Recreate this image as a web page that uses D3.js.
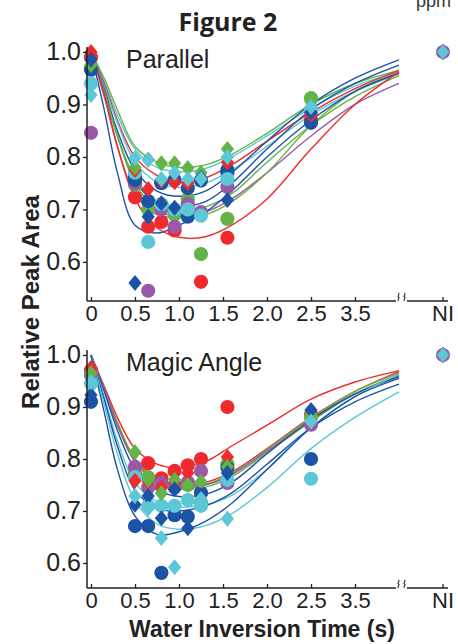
<!DOCTYPE html>
<html>
<head>
<meta charset="utf-8">
<script src="https://cdn.jsdelivr.net/npm/d3@7"></script>
<style>
  body { margin: 0; background: #fff; }
  svg { display: block; }
</style>
</head>
<body>
<svg id="chart" width="458" height="644"></svg>
<script>
// ---- data ----
const TIMES = [0, 0.5, 0.65, 0.8, 0.95, 1.1, 1.25, 1.55, 2.5];
const FIT_TIMES = [0, 0.15, 0.3, 0.5, 0.75, 1.0, 1.3, 1.6, 2.0, 2.5, 3.0, 3.5];
const X_TICKS = [0, 0.5, 1, 1.5, 2, 2.5, 3];
const X_TICK_LABELS = ["0", "0.5", "1.0", "1.5", "2.0", "2.5", "3.5"];
const Y_TICKS = [0.6, 0.7, 0.8, 0.9, 1.0];

const COLORS = {
  red: "#ee2a2c", green: "#62b446", blue: "#1d53a4", cyan: "#5bc7d7", purple: "#9b58a7"
};

// Parallel: measured points
const parRedCircle    = [0.99, 0.723, 0.667, 0.676, 0.66, 0.705, 0.562, 0.646, 0.87];
const parGreenCircle  = [0.97, 0.747, 0.70, 0.71, 0.69, 0.72, 0.615, 0.682, 0.912];
const parPurpleCircle = [0.846, 0.75, 0.545, 0.70, 0.667, 0.71, 0.695, 0.743, 0.885];
const parBlueCircle   = [0.966, 0.756, 0.716, 0.75, 0.756, 0.686, 0.755, 0.77, 0.865];
const parBlueCircle2  = [null, 0.762, null, 0.752, null, 0.741, null, 0.775, null];
const parCyanCircle   = [0.94, 0.77, 0.638, 0.71, 0.70, 0.70, 0.688, 0.758, 0.89];
const parRedDiamond   = [1.0, 0.775, 0.739, 0.755, 0.752, 0.75, null, 0.79, 0.88];
const parGreenDiamond = [0.975, 0.78, 0.795, 0.788, 0.788, 0.779, 0.77, 0.815, 0.905];
const parBlueDiamond  = [0.985, 0.56, 0.686, 0.712, 0.703, null, 0.76, 0.718, 0.885];
const parCyanDiamond  = [0.918, 0.798, 0.794, 0.758, 0.77, 0.758, 0.758, 0.80, 0.895];

// Parallel: fitted curves sampled at FIT_TIMES
const parFitGreenHi  = [1.0, 0.95, 0.89, 0.82, 0.79, 0.78, 0.785, 0.805, 0.845, 0.90, 0.94, 0.965];
const parFitCyanHi   = [1.0, 0.945, 0.88, 0.815, 0.78, 0.772, 0.778, 0.80, 0.84, 0.893, 0.935, 0.962];
const parFitRedHi    = [1.0, 0.94, 0.87, 0.80, 0.765, 0.752, 0.76, 0.785, 0.83, 0.885, 0.93, 0.965];
const parFitCyanLo   = [1.0, 0.935, 0.865, 0.79, 0.752, 0.742, 0.75, 0.775, 0.82, 0.88, 0.925, 0.958];
const parFitBlueHi   = [1.0, 0.93, 0.85, 0.775, 0.735, 0.725, 0.735, 0.77, 0.83, 0.90, 0.95, 0.985];
const parFitBlueMid  = [1.0, 0.925, 0.84, 0.755, 0.712, 0.705, 0.715, 0.75, 0.815, 0.89, 0.94, 0.975];
const parFitGreenMid = [1.0, 0.925, 0.84, 0.76, 0.715, 0.70, 0.705, 0.73, 0.79, 0.86, 0.915, 0.955];
const parFitPurple   = [1.0, 0.915, 0.82, 0.73, 0.69, 0.685, 0.695, 0.72, 0.77, 0.84, 0.90, 0.94];
const parFitGreenLo  = [1.0, 0.925, 0.84, 0.75, 0.70, 0.685, 0.69, 0.715, 0.77, 0.86, 0.925, 0.96];
const parFitBlueLo   = [1.0, 0.89, 0.77, 0.67, 0.655, 0.67, 0.695, 0.735, 0.80, 0.87, 0.925, 0.96];
const parFitRedLo    = [1.0, 0.92, 0.82, 0.72, 0.665, 0.647, 0.648, 0.67, 0.72, 0.815, 0.90, 0.962];

// Magic angle: measured points
const magRedCircle    = [0.97, 0.77, 0.792, 0.763, 0.777, 0.788, 0.80, 0.90, 0.885];
const magGreenCircle  = [0.96, 0.78, 0.765, 0.75, 0.75, 0.75, 0.715, 0.79, 0.88];
const magPurpleCircle = [0.965, 0.785, 0.745, 0.754, 0.745, 0.755, 0.777, 0.754, 0.866];
const magBlueCircle   = [0.91, 0.671, 0.671, 0.581, 0.692, 0.689, 0.735, 0.783, 0.80];
const magCyanCircle   = [0.945, 0.765, 0.71, 0.71, 0.71, 0.721, 0.71, 0.76, 0.762];
const magRedDiamond   = [0.975, 0.758, 0.756, 0.745, 0.755, 0.773, 0.73, 0.804, 0.885];
const magGreenDiamond = [0.965, 0.813, 0.76, 0.734, 0.76, 0.75, 0.756, 0.785, 0.885];
const magBlueDiamond  = [0.923, 0.712, 0.729, 0.686, 0.742, 0.667, 0.73, 0.773, 0.894];
const magCyanDiamond  = [0.948, 0.729, 0.705, 0.648, 0.592, 0.72, 0.723, 0.685, 0.872];

// Magic angle: fitted curves sampled at FIT_TIMES
const magFitRedHi   = [1.0, 0.94, 0.88, 0.82, 0.79, 0.783, 0.795, 0.825, 0.865, 0.915, 0.948, 0.97];
const magFitRedLo   = [1.0, 0.935, 0.87, 0.80, 0.762, 0.75, 0.755, 0.775, 0.82, 0.88, 0.93, 0.968];
const magFitGreen1  = [1.0, 0.935, 0.87, 0.80, 0.76, 0.748, 0.752, 0.772, 0.818, 0.878, 0.93, 0.965];
const magFitGreen2  = [1.0, 0.933, 0.865, 0.795, 0.755, 0.742, 0.746, 0.766, 0.812, 0.872, 0.925, 0.962];
const magFitPurple  = [1.0, 0.935, 0.865, 0.795, 0.757, 0.745, 0.75, 0.77, 0.815, 0.875, 0.925, 0.96];
const magFitBlueHi  = [1.0, 0.93, 0.855, 0.78, 0.74, 0.728, 0.732, 0.755, 0.81, 0.875, 0.925, 0.958];
const magFitCyanHi  = [1.0, 0.92, 0.835, 0.755, 0.718, 0.708, 0.712, 0.73, 0.78, 0.86, 0.92, 0.963];
const magFitBlueMid = [1.0, 0.915, 0.825, 0.74, 0.705, 0.70, 0.71, 0.735, 0.79, 0.86, 0.91, 0.944];
const magFitCyanLo  = [1.0, 0.905, 0.81, 0.72, 0.675, 0.665, 0.672, 0.695, 0.745, 0.82, 0.88, 0.929];
const magFitBlueLo  = [1.0, 0.89, 0.78, 0.69, 0.655, 0.66, 0.68, 0.715, 0.78, 0.86, 0.92, 0.955];

// NI (no inversion) reference point
const NI_VALUE = 1.0;

const panels = [
  {
    label: "Parallel", top: 47, bottom: 301, yMin: 0.5255, yMax: 1.0095,
    fits: [
      ["green", parFitGreenHi], ["cyan", parFitCyanHi], ["red", parFitRedHi], ["cyan", parFitCyanLo],
      ["blue", parFitBlueHi], ["blue", parFitBlueMid], ["green", parFitGreenMid], ["purple", parFitPurple],
      ["green", parFitGreenLo], ["blue", parFitBlueLo], ["red", parFitRedLo]
    ],
    points: [
      ["red", "circle", parRedCircle], ["green", "circle", parGreenCircle], ["purple", "circle", parPurpleCircle],
      ["blue", "circle", parBlueCircle], ["blue", "circle", parBlueCircle2], ["cyan", "circle", parCyanCircle],
      ["red", "diamond", parRedDiamond], ["green", "diamond", parGreenDiamond],
      ["blue", "diamond", parBlueDiamond], ["cyan", "diamond", parCyanDiamond]
    ]
  },
  {
    label: "Magic Angle", top: 350, bottom: 588, yMin: 0.5519, yMax: 1.0096,
    fits: [
      ["red", magFitRedHi], ["red", magFitRedLo], ["green", magFitGreen1], ["green", magFitGreen2],
      ["purple", magFitPurple], ["blue", magFitBlueHi], ["cyan", magFitCyanHi], ["blue", magFitBlueMid],
      ["cyan", magFitCyanLo], ["blue", magFitBlueLo]
    ],
    points: [
      ["red", "circle", magRedCircle], ["green", "circle", magGreenCircle], ["purple", "circle", magPurpleCircle],
      ["blue", "circle", magBlueCircle], ["cyan", "circle", magCyanCircle],
      ["red", "diamond", magRedDiamond], ["green", "diamond", magGreenDiamond],
      ["blue", "diamond", magBlueDiamond], ["cyan", "diamond", magCyanDiamond]
    ]
  }
];

// ---- layout ----
const svg = d3.select("#chart");
const axisX = 87;
const niX = 443;
const x = d3.scaleLinear().domain([0, 3.5]).range([91, 399]);
const FONT = "'Liberation Sans', Arial, sans-serif";

function diamondPath(cx, cy) {
  const w = 6.6, h = 8;
  return `M${cx},${cy - h}L${cx + w},${cy}L${cx},${cy + h}L${cx - w},${cy}Z`;
}

function drawMarker(g, shape, color, cx, cy) {
  if (shape === "circle") {
    g.append("circle").attr("cx", cx).attr("cy", cy).attr("r", 7.1).attr("fill", color);
  } else {
    g.append("path").attr("d", diamondPath(cx, cy)).attr("fill", color);
  }
}

panels.forEach(p => {
  const y = d3.scaleLinear().domain([p.yMin, p.yMax]).range([p.bottom, p.top]);
  const g = svg.append("g");

  // fitted curves
  const line = d3.line()
    .x((d, i) => x(FIT_TIMES[i]))
    .y(d => y(d))
    .curve(d3.curveCatmullRom.alpha(0.5));
  g.append("g").selectAll("path")
    .data(p.fits).join("path")
    .attr("d", d => line(d[1]))
    .attr("fill", "none")
    .attr("stroke", d => COLORS[d[0]])
    .attr("stroke-width", 1.4);

  // data points
  const pg = g.append("g");
  p.points.forEach(([color, shape, vals]) => {
    vals.forEach((v, i) => {
      if (v == null) return;
      drawMarker(pg, shape, COLORS[color], x(TIMES[i]), y(v));
    });
  });

  // NI reference point
  drawMarker(pg, "circle", COLORS.purple, niX, y(NI_VALUE));
  pg.append("path").attr("d", diamondPath(niX, y(NI_VALUE)))
    .attr("fill", COLORS.cyan).attr("stroke", "#8a6fae").attr("stroke-width", 1);

  // y axis
  const yAxis = d3.axisLeft(y).tickValues(Y_TICKS).tickFormat(d3.format(".1f"))
    .tickSize(4).tickSizeOuter(0).tickPadding(2);
  const ya = g.append("g").attr("transform", `translate(${axisX},0)`).call(yAxis);
  ya.select(".domain").remove();
  ya.selectAll("line").attr("stroke", "#222").attr("stroke-width", 1.3);
  ya.selectAll("text").attr("font-size", 25).attr("font-family", FONT).attr("fill", "#222");
  g.append("line").attr("x1", axisX).attr("x2", axisX).attr("y1", p.top).attr("y2", p.bottom)
    .attr("stroke", "#222").attr("stroke-width", 1.5);

  // x axis
  const xAxis = d3.axisBottom(x).tickValues(X_TICKS).tickFormat((d, i) => X_TICK_LABELS[i])
    .tickSize(-4).tickSizeOuter(0).tickPadding(3);
  const xa = g.append("g").attr("transform", `translate(0,${p.bottom})`).call(xAxis);
  xa.select(".domain").remove();
  xa.selectAll("line").attr("stroke", "#222").attr("stroke-width", 1.3);
  xa.selectAll("text").attr("font-size", 22).attr("font-family", FONT).attr("fill", "#222")
    .attr("dy", "0.75em");

  g.append("line").attr("x1", axisX).attr("x2", 396).attr("y1", p.bottom).attr("y2", p.bottom)
    .attr("stroke", "#222").attr("stroke-width", 1.5);
  g.append("line").attr("x1", 407).attr("x2", 448).attr("y1", p.bottom).attr("y2", p.bottom)
    .attr("stroke", "#222").attr("stroke-width", 1.5);
  // axis break marks
  [398.5, 404.5].forEach(bx => {
    g.append("path")
      .attr("d", `M${bx},${p.bottom - 8}c2,2 -2,3 0,4s-2,2 0,4`)
      .attr("fill", "none").attr("stroke", "#222").attr("stroke-width", 1.1);
  });
  // NI tick + label
  g.append("line").attr("x1", niX).attr("x2", niX).attr("y1", p.bottom).attr("y2", p.bottom - 4)
    .attr("stroke", "#222").attr("stroke-width", 1.3);
  g.append("text").attr("x", niX).attr("y", p.bottom + 19.5).attr("text-anchor", "middle")
    .attr("font-size", 22).attr("font-family", FONT).attr("fill", "#222").text("NI");

  // panel label
  g.append("text").attr("x", 126).attr("y", p.top + 21)
    .attr("font-size", 25).attr("font-family", FONT).attr("fill", "#222").text(p.label);
});

// titles
svg.append("text").attr("x", 228).attr("y", 31).attr("text-anchor", "middle")
  .attr("font-size", 25).attr("font-weight", 700).attr("font-family", "'Open Sans', sans-serif")
  .attr("fill", "#222").text("Figure 2");
svg.append("text").attr("x", 416).attr("y", 7)
  .attr("font-size", 18).attr("font-family", FONT).attr("fill", "#333").text("ppm");
svg.append("text").attr("transform", "translate(39,302) rotate(-90)").attr("text-anchor", "middle")
  .attr("font-size", 24).attr("font-weight", 700).attr("font-family", FONT)
  .attr("fill", "#222").text("Relative Peak Area");
svg.append("text").attr("x", 262).attr("y", 637).attr("text-anchor", "middle")
  .attr("font-size", 23).attr("font-weight", 700).attr("font-family", FONT)
  .attr("fill", "#222").text("Water Inversion Time (s)");
</script>
</body>
</html>
